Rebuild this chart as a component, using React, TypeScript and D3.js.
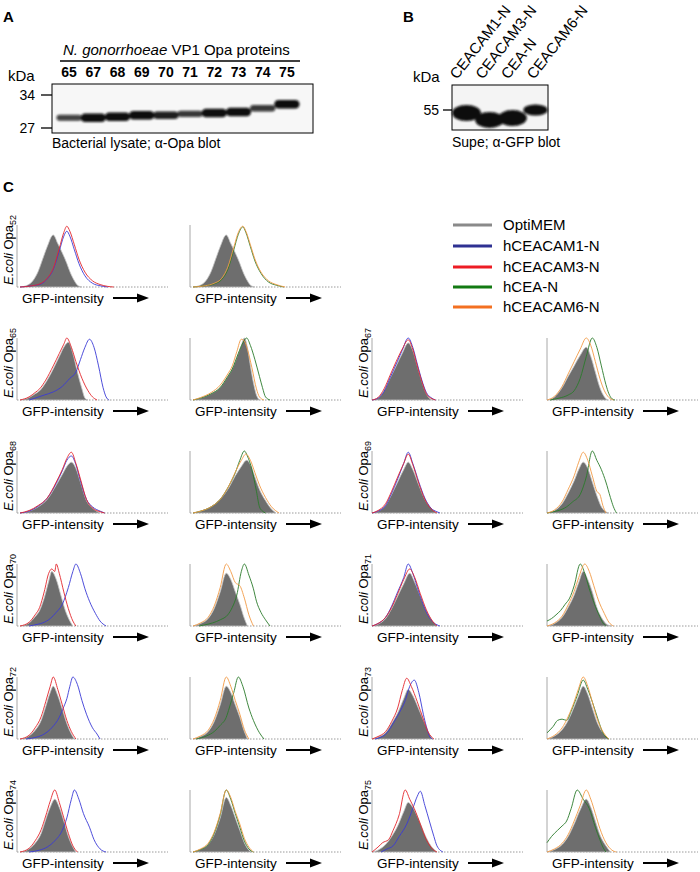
import React from 'react';
import * as d3 from 'd3';

const FONT = "'Liberation Sans', Arial, Helvetica, sans-serif";

// Panel A: Opa western blot
const OPA_LANES = ['65', '67', '68', '69', '70', '71', '72', '73', '74', '75'];
const OPA_BAND_KDA = [29.0, 29.0, 29.2, 29.5, 29.5, 29.8, 30.0, 30.2, 31.0, 31.9];
const OPA_BAND_STRENGTH = [0.55, 1, 1, 1, 0.85, 0.65, 1, 1, 0.65, 1];
const KDA_TICKS_A = [34, 27];

// Panel B: GFP blot
const CEACAM_LANES = ['CEACAM1-N', 'CEACAM3-N', 'CEA-N', 'CEACAM6-N'];
const CEACAM_BAND_KDA = [54, 51.7, 52.3, 55];
const CEACAM_BAND_STRENGTH = [1, 1, 1, 0.7];
const KDA_TICKS_B = [55];

// Legend
const LEGEND_LABELS = ['OptiMEM', 'hCEACAM1-N', 'hCEACAM3-N', 'hCEA-N', 'hCEACAM6-N'];
const LEGEND_COLORS = ['#8a8a8a', '#2e3192', '#ed1c24', '#137a13', '#f37021'];
const LINE_COLORS = { cam1: '#3a3ad6', cam3: '#e3262b', cea: '#2a7a2a', cam6: '#f29a45' };

// Histograms: [GFP position %, count %]
const HIST_52 = {
  optiA: [[2,0],[6,2],[10.5,10],[14,25],[17,45],[20,65],[24,84],[27,70],[30,55],[33,38],[35,25],[38,10],[40,3],[43,0]],
  cam1: [[2,0],[10,2],[16,5],[20,13],[24,28],[28,58],[31,82],[33,90],[35,82],[38,60],[41,38],[45,18],[50,6],[55,2],[60,0]],
  cam3: [[2,0],[10,2],[16,6],[20,14],[24,30],[28,62],[31,88],[33,98],[35,90],[38,68],[41,45],[45,24],[50,10],[55,4],[60,1],[64,0]],
  optiB: [[2,0],[6,2],[10.5,10],[14,25],[17,45],[20,65],[24,84],[27,70],[30,55],[33,38],[35,25],[38,10],[40,3],[43,0]],
  cea: [[2,0],[10,2],[16,5],[21,12],[25,28],[29,60],[32,85],[35,97],[37,88],[40,65],[43,42],[47,22],[52,8],[57,3],[62,0]],
  cam6: [[2,0],[10,2],[16,6],[21,14],[25,32],[29,64],[32,88],[35,98],[37,90],[40,68],[43,45],[47,24],[52,10],[57,4],[63,0]],
};
const HIST_65 = {
  optiA: [[2,0],[8,4],[12,10],[15,15],[19,28],[24,50],[28,70],[31,85],[34,93],[37,75],[40,45],[43,18],[45,3],[47,0]],
  cam1: [[8,0],[12,3],[18,8],[24,13],[30,22],[35,35],[39,45],[42,65],[45,85],[48,98],[51,85],[54,55],[57,20],[59,5],[61,0]],
  cam3: [[2,0],[8,5],[12,12],[15,18],[19,32],[24,55],[28,75],[31,90],[33,100],[36,85],[39,62],[43,35],[47,15],[50,5],[53,0]],
  optiB: [[2,0],[7,3],[14,10],[20,20],[25,38],[28,50],[32,75],[34,88],[36,100],[38,85],[40,55],[42,28],[44,8],[46,0]],
  cea: [[2,0],[7,3],[14,10],[20,20],[25,38],[28,50],[32,75],[35,92],[37.5,100],[40,88],[43,65],[46,38],[48,20],[50,5],[53,0]],
  cam6: [[2,0],[7,4],[14,12],[20,24],[25,42],[28,55],[31,78],[34,98],[36,95],[38,82],[41,52],[44,18],[46,5],[49,0]],
};
const HIST_67 = {
  optiA: [[0,0],[4,3],[8,15],[12,35],[16,55],[20,75],[24,92],[27,80],[30,55],[33,30],[36,10],[38,3],[40,0]],
  cam1: [[0,0],[4,3],[8,14],[12,36],[16,58],[20,80],[24,100],[27,85],[30,58],[33,32],[36,12],[39,4],[42,0]],
  cam3: [[0,0],[4,4],[8,18],[12,40],[16,62],[20,82],[24,97],[27,82],[30,55],[33,30],[36,10],[39,3],[42,0]],
  optiB: [[0,0],[5,5],[10,20],[14,38],[18,55],[22,72],[26,85],[29,70],[32,45],[35,20],[38,5],[40,0]],
  cea: [[2,0],[8,3],[14,8],[18,15],[22,35],[26,70],[30,100],[33,85],[36,55],[39,25],[41,10],[43,2],[45,0]],
  cam6: [[0,0],[5,6],[10,22],[14,42],[18,62],[22,82],[26,100],[29,88],[32,62],[35,35],[38,15],[41,4],[44,0]],
};
const HIST_68 = {
  optiA: [[2,0],[8,3],[14,10],[20,22],[26,45],[30,62],[33,75],[36,82],[39,72],[42,50],[46,20],[50,8],[55,0]],
  cam1: [[2,0],[8,3],[14,11],[20,24],[26,48],[30,68],[33,85],[36,92],[39,78],[42,52],[46,22],[50,10],[55,3],[58,0]],
  cam3: [[2,0],[8,4],[14,12],[20,24],[26,50],[30,70],[33,88],[36,98],[39,80],[42,55],[46,22],[50,8],[55,2],[58,0]],
  optiB: [[2,0],[7,3],[14,10],[20,22],[26,42],[30,60],[34,75],[37.5,85],[40,78],[43,58],[46,38],[50,20],[54,6],[57,0]],
  cea: [[2,0],[7,3],[14,10],[20,22],[26,45],[30,65],[33,85],[36,100],[38,92],[41,70],[44,35],[46,10],[48,3],[50,0]],
  cam6: [[2,0],[7,3],[14,10],[20,22],[26,45],[30,66],[34,85],[37,95],[40,85],[43,65],[46,45],[50,25],[54,10],[59,0]],
};
const HIST_69 = {
  optiA: [[0,0],[4,3],[9,12],[13,30],[17,50],[21,70],[24,82],[27,70],[31,45],[35,22],[39,8],[43,0]],
  cam1: [[0,0],[4,3],[9,12],[13,32],[17,55],[21,80],[24,98],[27,80],[31,50],[35,24],[39,8],[43,2],[45,0]],
  cam3: [[0,0],[4,4],[9,15],[13,35],[17,58],[21,80],[24,95],[27,78],[31,48],[35,22],[39,7],[43,0]],
  optiB: [[0,0],[5,4],[10,15],[14,32],[18,52],[21,70],[24,82],[27,72],[30,50],[33,28],[36,10],[39,2],[41,0]],
  cea: [[0,0],[6,3],[10,6],[13,10],[17,18],[22,30],[26,58],[30,100],[33,85],[36,70],[39,50],[42,25],[44,10],[46,0]],
  cam6: [[0,0],[5,5],[10,18],[14,38],[18,60],[21,82],[24,98],[27,85],[30,60],[33,35],[35,30],[37,12],[39,0]],
};
const HIST_70 = {
  optiA: [[2,0],[8,5],[12,15],[15,25],[18,45],[21,72],[23,88],[26,75],[29,50],[32,25],[35,8],[37,0]],
  cam1: [[8,0],[14,3],[17,5],[22,12],[26,22],[30,35],[34,62],[37,88],[39,100],[42,85],[45,60],[48,40],[52,20],[55,8],[59,0]],
  cam3: [[2,0],[8,6],[12,18],[15,30],[18,55],[21,85],[23,92],[25,88],[26,100],[28,85],[31,55],[34,28],[37,8],[39,0]],
  optiB: [[2,0],[7,4],[12,12],[16,28],[20,55],[24,85],[27,75],[30,55],[33,35],[36,12],[38,0]],
  cea: [[6,0],[12,3],[15,5],[20,10],[25,18],[28,30],[31,50],[34,88],[36,100],[39,82],[42,60],[44,40],[47,22],[50,10],[53,0]],
  cam6: [[2,0],[7,5],[12,14],[16,32],[20,62],[24,100],[27,88],[30,70],[33,65],[36,45],[39,18],[42,0]],
};
const HIST_71 = {
  optiA: [[0,0],[4,3],[9,12],[13,28],[17,48],[21,68],[25,85],[28,72],[32,48],[36,24],[40,8],[43,0]],
  cam1: [[0,0],[4,4],[9,14],[13,32],[17,55],[21,78],[24,100],[27,85],[31,55],[35,28],[39,10],[43,2],[45,0]],
  cam3: [[0,0],[4,4],[9,14],[13,30],[17,52],[21,75],[25,92],[28,80],[32,52],[36,26],[40,8],[43,0]],
  optiB: [[0,0],[5,4],[10,14],[14,30],[18,50],[21,70],[24,88],[27,75],[30,55],[33,30],[37,10],[40,2],[43,0]],
  cea: [[0,8],[3,12],[6,18],[9,25],[12,35],[15,45],[18,65],[22,100],[25,85],[28,60],[31,38],[35,15],[37,5],[39,0]],
  cam6: [[0,0],[5,5],[10,16],[14,34],[18,56],[21,78],[25,100],[28,88],[31,65],[34,42],[38,20],[41,6],[44,0]],
};
const HIST_72 = {
  optiA: [[2,0],[8,5],[12,14],[16,30],[19,52],[22,75],[24,85],[27,70],[30,48],[33,25],[36,8],[38,0]],
  cam1: [[6,0],[13,3],[18,8],[23,18],[28,35],[31,52],[33,65],[35,85],[37,100],[40,88],[43,62],[46,40],[50,18],[53,8],[55,0]],
  cam3: [[2,0],[8,6],[12,18],[16,36],[19,60],[22,85],[24,100],[27,80],[30,55],[33,30],[36,12],[39,0]],
  optiB: [[2,0],[7,4],[12,12],[16,28],[20,55],[24,85],[27,75],[30,55],[33,35],[36,12],[38,0]],
  cea: [[4,0],[11,5],[16,12],[20,22],[24,35],[26,50],[29,75],[32,100],[35,85],[39,50],[42,30],[46,10],[49,0]],
  cam6: [[2,0],[7,5],[12,14],[16,32],[20,62],[24,100],[27,85],[30,62],[33,40],[36,15],[39,0]],
};
const HIST_73 = {
  optiA: [[0,0],[4,3],[9,10],[13,25],[17,42],[21,65],[24,80],[27,70],[31,48],[35,25],[38,8],[40,0]],
  cam1: [[2,0],[6,3],[10,10],[14,25],[18,42],[22,62],[25,85],[28,95],[31,75],[34,40],[36,20],[38,5],[40,0]],
  cam3: [[0,0],[4,4],[9,12],[13,28],[17,50],[20,78],[23,98],[26,85],[30,60],[34,32],[37,12],[41,0]],
  optiB: [[0,0],[5,5],[10,15],[14,30],[18,52],[21,70],[24,85],[27,72],[30,50],[33,28],[37,10],[41,0]],
  cea: [[0,10],[4,20],[7,30],[10,32],[13,30],[16,45],[20,70],[24,95],[27,80],[30,60],[34,30],[37,10],[41,0]],
  cam6: [[0,0],[5,6],[10,18],[14,36],[18,60],[21,82],[24,100],[27,85],[30,60],[33,34],[37,12],[41,0]],
};
const HIST_74 = {
  optiA: [[2,0],[8,5],[12,14],[16,30],[19,52],[22,72],[25,85],[28,72],[31,50],[34,25],[37,8],[39,0]],
  cam1: [[8,0],[15,3],[20,8],[25,18],[30,35],[33,55],[36,85],[38,100],[41,85],[44,62],[48,40],[51,20],[55,5],[59,0]],
  cam3: [[2,0],[8,6],[12,18],[16,36],[19,58],[22,82],[25,100],[28,80],[31,55],[34,30],[37,10],[40,0]],
  optiB: [[2,0],[7,4],[12,12],[16,28],[20,55],[24,88],[27,75],[30,55],[33,35],[36,15],[39,3],[41,0]],
  cea: [[2,0],[7,4],[12,12],[16,30],[20,60],[24,100],[27,85],[30,62],[33,40],[36,18],[39,5],[42,0]],
  cam6: [[2,0],[7,5],[12,14],[16,32],[20,62],[24,100],[27,88],[30,65],[33,45],[36,22],[39,8],[42,0]],
};
const HIST_75 = {
  optiA: [[0,0],[4,3],[9,12],[13,25],[17,42],[21,65],[24,80],[27,72],[31,52],[35,28],[39,10],[43,0]],
  cam1: [[6,0],[10,5],[14,10],[18,25],[23,45],[27,70],[30,90],[32,98],[35,75],[38,50],[41,25],[43,10],[47,0]],
  cam3: [[0,0],[4,8],[7,15],[11,20],[14,35],[18,60],[22,100],[25,85],[28,70],[32,45],[36,20],[40,5],[43,0]],
  optiB: [[0,0],[5,4],[10,12],[14,25],[18,45],[22,68],[26,85],[29,72],[32,50],[35,28],[39,10],[42,0]],
  cea: [[0,15],[3,25],[7,35],[10,42],[13,50],[16,70],[20,100],[24,85],[28,70],[32,40],[35,20],[37,8],[39,0]],
  cam6: [[0,0],[5,5],[10,14],[14,28],[18,50],[22,75],[26,100],[29,85],[32,62],[35,38],[39,15],[43,3],[46,0]],
};

const STRAINS = ['52', '65', '67', '68', '69', '70', '71', '72', '73', '74', '75'];
const STRAIN_DATA = [HIST_52, HIST_65, HIST_67, HIST_68, HIST_69, HIST_70, HIST_71, HIST_72, HIST_73, HIST_74, HIST_75];

// Layout
const COL_X = [17, 190, 372, 547];
const ROW_BASE = [287, 400, 513, 626, 739, 852];
const PW = 151;
const PH = 62;

type Pt = number[];

function Histogram({ x0, base, gray, lines }: { x0: number; base: number; gray: Pt[]; lines: { d: Pt[]; c: string }[] }) {
  const xs = d3.scaleLinear().domain([0, 100]).range([x0, x0 + PW]);
  const ys = d3.scaleLinear().domain([0, 100]).range([base, base - PH]);
  const area = d3.area<Pt>().x(d => xs(d[0])).y0(base).y1(d => ys(d[1])).curve(d3.curveMonotoneX);
  const line = d3.line<Pt>().x(d => xs(d[0])).y(d => ys(d[1])).curve(d3.curveMonotoneX);
  return (
    <g>
      <line x1={x0} x2={x0 + PW} y1={base} y2={base} stroke="#9a9a9a" strokeWidth={1} strokeDasharray="1.5 1.5" />
      <line x1={x0} x2={x0} y1={base - PH} y2={base} stroke="#a8a8a8" strokeWidth={1} />
      <path d={area(gray) || ''} fill="#6e6e6e" stroke="#c4c4c4" strokeWidth={0.8} />
      {lines.map((l, i) => (
        <path key={i} d={line(l.d) || ''} fill="none" stroke={l.c} strokeWidth={0.9} />
      ))}
    </g>
  );
}

function AxisLabel({ x0, base }: { x0: number; base: number }) {
  const ty = base + 11;
  return (
    <g>
      <text x={x0 + 5} y={ty + 5} fontSize={13.5} fontFamily={FONT}>GFP-intensity</text>
      <line x1={x0 + 96} x2={x0 + 122} y1={ty} y2={ty} stroke="#000" strokeWidth={2} />
      <path d={`M${x0 + 132},${ty} L${x0 + 120},${ty - 4.5} L${x0 + 120},${ty + 4.5} Z`} fill="#000" />
    </g>
  );
}

function StrainLabel({ x, y, strain }: { x: number; y: number; strain: string }) {
  return (
    <text transform={`translate(${x},${y}) rotate(-90)`} fontSize={13} fontFamily={FONT}>
      <tspan fontStyle="italic">E.coli</tspan>
      <tspan> Opa</tspan>
      <tspan fontSize={9} dy={3}>{strain}</tspan>
    </text>
  );
}

export default function App() {
  // Panel A scales
  const laneA = d3.scaleBand<string>().domain(OPA_LANES).range([57, 299]).padding(0);
  const yA = d3.scaleLog().domain([27, 34]).range([128, 95]);
  // Panel B scales
  const laneB = d3.scaleBand<string>().domain(CEACAM_LANES).range([455, 547]).padding(0);
  const labB = d3.scalePoint<string>().domain(CEACAM_LANES).range([457, 534]);
  const yB = d3.scaleLinear().domain([50, 60]).range([125, 95]);

  const panels: JSX.Element[] = [];
  STRAINS.forEach((s, i) => {
    const data = STRAIN_DATA[i];
    const row = i === 0 ? 0 : Math.floor((i - 1) / 2) + 1;
    const colPair = i === 0 ? 0 : ((i - 1) % 2) * 2;
    const base = ROW_BASE[row];
    const xa = COL_X[colPair];
    const xb = COL_X[colPair + 1];
    panels.push(
      <g key={s}>
        <StrainLabel x={xa - 4} y={base - 2} strain={s} />
        <Histogram x0={xa} base={base} gray={data.optiA}
          lines={[{ d: data.cam1, c: LINE_COLORS.cam1 }, { d: data.cam3, c: LINE_COLORS.cam3 }]} />
        <AxisLabel x0={xa} base={base} />
        <Histogram x0={xb} base={base} gray={data.optiB}
          lines={[{ d: data.cea, c: LINE_COLORS.cea }, { d: data.cam6, c: LINE_COLORS.cam6 }]} />
        <AxisLabel x0={xb} base={base} />
      </g>
    );
  });

  return (
    <svg width={700} height={872} style={{ position: 'absolute', left: 0, top: 0, background: '#fff' }}>
      <defs>
        <filter id="blurA" x="-20%" y="-80%" width="140%" height="260%">
          <feGaussianBlur stdDeviation="1.0" />
        </filter>
        <filter id="blurB" x="-20%" y="-50%" width="140%" height="200%">
          <feGaussianBlur stdDeviation="1.3" />
        </filter>
      </defs>
      <rect width={700} height={872} fill="#fff" />

      {/* Panel A */}
      <text x={3} y={22} fontSize={15} fontWeight="bold" fontFamily={FONT}>A</text>
      <text x={63} y={55} fontSize={15} fontFamily={FONT}>
        <tspan fontStyle="italic">N. gonorrhoeae</tspan> VP1 Opa proteins
      </text>
      <line x1={60} x2={300} y1={61} y2={61} stroke="#000" strokeWidth={1.3} />
      <text x={8} y={81} fontSize={15} fontFamily={FONT}>kDa</text>
      {OPA_LANES.map(l => (
        <text key={l} x={(laneA(l) || 0) + laneA.bandwidth() / 2} y={77} fontSize={14} fontWeight="bold"
          textAnchor="middle" fontFamily={FONT}>{l}</text>
      ))}
      <rect x={52} y={84} width={261} height={49} fill="#f7f7f7" stroke="#000" strokeWidth={1} />
      <g filter="url(#blurA)">
        {OPA_LANES.map((l, i) => {
          const st = OPA_BAND_STRENGTH[i];
          const h = 2.5 + st * 6;
          const cx = (laneA(l) || 0) + laneA.bandwidth() / 2;
          const w = laneA.bandwidth() * 1.04;
          return (
            <rect key={l} x={cx - w / 2} y={yA(OPA_BAND_KDA[i]) - h / 2} width={w} height={h} rx={h / 2}
              fill="#0c0c0c" opacity={0.5 + 0.5 * st} />
          );
        })}
      </g>
      {KDA_TICKS_A.map(k => (
        <g key={k}>
          <text x={35} y={yA(k) + 5} fontSize={14} textAnchor="end" fontFamily={FONT}>{k}</text>
          <line x1={41} x2={52} y1={yA(k)} y2={yA(k)} stroke="#000" strokeWidth={1.3} />
        </g>
      ))}
      <text x={52} y={148} fontSize={14} fontFamily={FONT}>Bacterial lysate; α-Opa blot</text>

      {/* Panel B */}
      <text x={403} y={22} fontSize={15} fontWeight="bold" fontFamily={FONT}>B</text>
      {CEACAM_LANES.map(l => (
        <text key={l} transform={`translate(${labB(l)},${80}) rotate(-52)`} fontSize={15} fontFamily={FONT}>{l}</text>
      ))}
      <text x={413} y={82} fontSize={15} fontFamily={FONT}>kDa</text>
      <rect x={452} y={85} width={96} height={45} fill="#f4f4f4" stroke="#000" strokeWidth={1} />
      <g filter="url(#blurB)">
        {CEACAM_LANES.map((l, i) => {
          const st = CEACAM_BAND_STRENGTH[i];
          const cx = (laneB(l) || 0) + laneB.bandwidth() / 2;
          const w = laneB.bandwidth() * (0.6 + 0.65 * st);
          const h = 16 * st;
          return (
            <ellipse key={l} cx={cx} cy={yB(CEACAM_BAND_KDA[i])} rx={w / 2} ry={h / 2} fill="#0a0a0a" />
          );
        })}
      </g>
      {KDA_TICKS_B.map(k => (
        <g key={k}>
          <text x={439} y={yB(k) + 5} fontSize={14} textAnchor="end" fontFamily={FONT}>{k}</text>
          <line x1={443} x2={452} y1={yB(k)} y2={yB(k)} stroke="#000" strokeWidth={1.3} />
        </g>
      ))}
      <text x={452} y={147} fontSize={14} fontFamily={FONT}>Supe; α-GFP blot</text>

      {/* Panel C */}
      <text x={3} y={192} fontSize={15} fontWeight="bold" fontFamily={FONT}>C</text>
      {LEGEND_LABELS.map((lab, i) => {
        const y = [225, 246, 267, 287, 307][i];
        return (
          <g key={lab}>
            <line x1={453} x2={492} y1={y} y2={y} stroke={LEGEND_COLORS[i]} strokeWidth={3} />
            <text x={503} y={y + 5} fontSize={15} fontFamily={FONT}>{lab}</text>
          </g>
        );
      })}
      {panels}
    </svg>
  );
}
